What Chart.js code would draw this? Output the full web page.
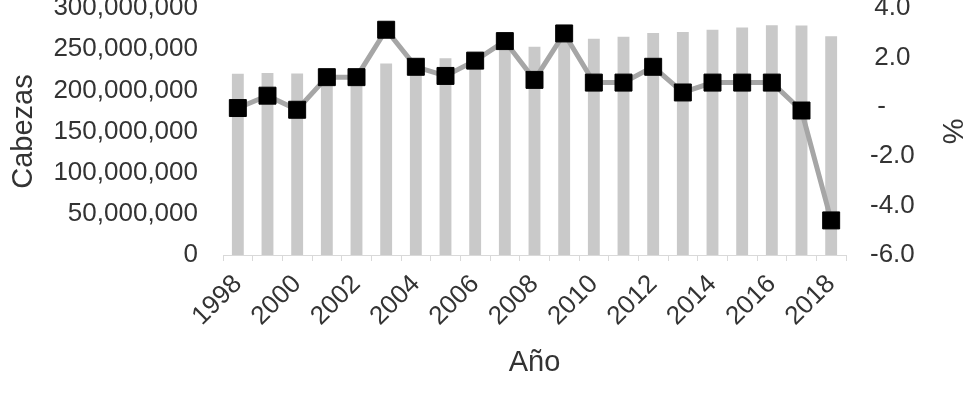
<!DOCTYPE html>
<html>
<head>
<meta charset="utf-8">
<script src="https://cdn.jsdelivr.net/npm/chart.js@4/dist/chart.umd.min.js"></script>
<style>
    body { margin: 0; background: #fff; }
    #wrap { position: relative; width: 975px; height: 398px; }
</style>
</head>
<body>
<div id="wrap"><canvas id="cabezasChart" width="975" height="398"></canvas></div>
<script>
// Data
const years = ['1998', '1999', '2000', '2001', '2002', '2003', '2004', '2005', '2006', '2007', '2008',
               '2009', '2010', '2011', '2012', '2013', '2014', '2015', '2016', '2017', '2018'];
const cabezas = [220000000, 221000000, 220500000, 223000000, 225500000, 232500000, 236000000, 239000000,
                 243500000, 250000000, 252800000, 260000000, 262600000, 265000000, 269500000, 271000000,
                 273700000, 276400000, 279000000, 278600000, 265800000];
const variacion = [-0.05, 0.45, -0.12, 1.2, 1.2, 3.12, 1.62, 1.25, 1.87, 2.66, 1.09,
                   2.97, 0.98, 0.98, 1.62, 0.58, 0.98, 0.98, 0.98, -0.15, -4.6];
const leftTicks = { min: 0, max: 300000000, step: 50000000 };
const rightTicks = { min: -6, max: 4, step: 2 };

const FONT = "'Liberation Sans', Arial, sans-serif";
const TEXT = '#333333';
const AXIS_GREY = '#d9d9d9';

document.addEventListener('DOMContentLoaded', function() {
    const ctx = document.getElementById('cabezasChart');

    new Chart(ctx, {
        type: 'bar',
        data: {
            labels: years,
            datasets: [{
                type: 'line',
                label: '%',
                data: variacion,
                yAxisID: 'y1',
                borderColor: '#a6a6a6',
                borderWidth: 5,
                pointStyle: 'rect',
                pointRadius: 12,
                pointBackgroundColor: '#000000',
                pointBorderColor: '#000000',
                pointBorderWidth: 1,
                tension: 0,
                clip: false,
                order: 0
            }, {
                label: 'Cabezas',
                data: cabezas,
                yAxisID: 'y',
                backgroundColor: '#c9c9c9',
                categoryPercentage: 1.0,
                barPercentage: 0.4,
                order: 1
            }]
        },
        options: {
            responsive: false,
            animation: false,
            layout: {
                autoPadding: false,
                padding: { top: 8, left: 0, right: 0, bottom: 0 }
            },
            plugins: {
                legend: { display: false },
                tooltip: { enabled: false }
            },
            scales: {
                x: {
                    offset: true,
                    grid: {
                        display: true,
                        drawOnChartArea: false,
                        drawTicks: true,
                        tickLength: 6,
                        color: AXIS_GREY,
                        offset: true
                    },
                    border: { display: true, color: AXIS_GREY, width: 1 },
                    ticks: {
                        autoSkip: false,
                        minRotation: 45,
                        maxRotation: 45,
                        padding: 8,
                        color: TEXT,
                        font: { family: FONT, size: 26 },
                        callback: function(value, index) {
                            return index % 2 === 0 ? years[index] : '';
                        }
                    },
                    title: {
                        display: true,
                        text: 'Año',
                        color: TEXT,
                        font: { family: FONT, size: 29 },
                        padding: { top: 0, bottom: 18 }
                    },
                    afterFit: function(scale) {
                        scale.height = 398 - 255;
                        scale.paddingLeft = 0;
                        scale.paddingRight = 0;
                    }
                },
                y: {
                    position: 'left',
                    min: leftTicks.min,
                    max: leftTicks.max,
                    grid: { display: false, drawTicks: false },
                    border: { display: false },
                    ticks: {
                        stepSize: leftTicks.step,
                        padding: 25,
                        color: TEXT,
                        font: { family: FONT, size: 26 },
                        callback: function(value) {
                            return value.toLocaleString('en-US');
                        }
                    },
                    title: {
                        display: true,
                        text: 'Cabezas',
                        color: TEXT,
                        font: { family: FONT, size: 29 },
                        padding: { top: 7, bottom: 0 }
                    },
                    afterFit: function(scale) {
                        scale.width = 223;
                        scale.paddingTop = 0;
                        scale.paddingBottom = 0;
                    }
                },
                y1: {
                    position: 'right',
                    min: rightTicks.min,
                    max: rightTicks.max,
                    grid: { display: false, drawTicks: false },
                    border: { display: false },
                    ticks: {
                        stepSize: rightTicks.step,
                        padding: 24,
                        crossAlign: 'center',
                        color: TEXT,
                        font: { family: FONT, size: 26 },
                        callback: function(value) {
                            return value === 0 ? '-   ' : value.toFixed(1);
                        }
                    },
                    title: {
                        display: true,
                        text: '%',
                        color: TEXT,
                        font: { family: FONT, size: 29 },
                        padding: { top: 7, bottom: 0 }
                    },
                    afterFit: function(scale) {
                        scale.width = 975 - 846;
                        scale.paddingTop = 0;
                        scale.paddingBottom = 0;
                    }
                }
            }
        }
    });
});
</script>
</body>
</html>
